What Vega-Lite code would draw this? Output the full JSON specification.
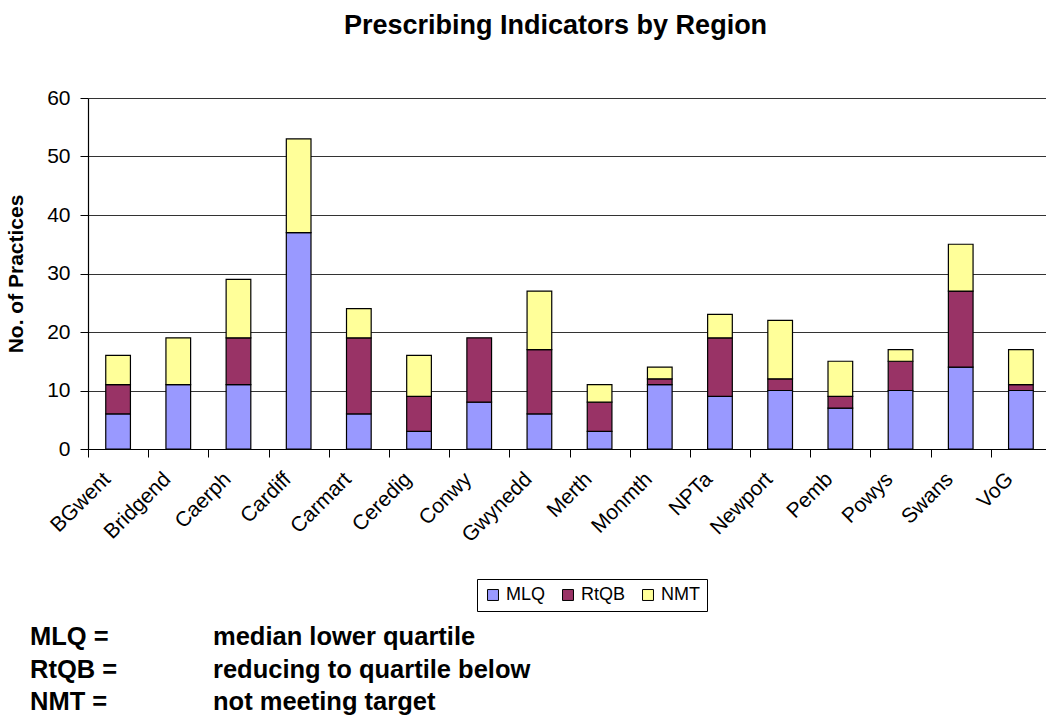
{
  "$schema": "https://vega.github.io/schema/vega-lite/v6.json",
  "background": "white",
  "padding": {"top": 12, "left": 5, "right": 5, "bottom": 5},
  "title": {
    "text": "Prescribing Indicators by Region",
    "font": "Liberation Sans",
    "fontSize": 27,
    "fontWeight": "bold",
    "color": "black",
    "anchor": "middle",
    "dx": 27,
    "offset": 47
  },
  "spacing": 79,
  "vconcat": [
    {
      "width": 963,
      "height": 351,
      "data": {
        "values": [
          {"region": "BGwent", "type": "MLQ", "n": 6},
          {"region": "BGwent", "type": "RtQB", "n": 5},
          {"region": "BGwent", "type": "NMT", "n": 5},
          {"region": "Bridgend", "type": "MLQ", "n": 11},
          {"region": "Bridgend", "type": "NMT", "n": 8},
          {"region": "Caerph", "type": "MLQ", "n": 11},
          {"region": "Caerph", "type": "RtQB", "n": 8},
          {"region": "Caerph", "type": "NMT", "n": 10},
          {"region": "Cardiff", "type": "MLQ", "n": 37},
          {"region": "Cardiff", "type": "NMT", "n": 16},
          {"region": "Carmart", "type": "MLQ", "n": 6},
          {"region": "Carmart", "type": "RtQB", "n": 13},
          {"region": "Carmart", "type": "NMT", "n": 5},
          {"region": "Ceredig", "type": "MLQ", "n": 3},
          {"region": "Ceredig", "type": "RtQB", "n": 6},
          {"region": "Ceredig", "type": "NMT", "n": 7},
          {"region": "Conwy", "type": "MLQ", "n": 8},
          {"region": "Conwy", "type": "RtQB", "n": 11},
          {"region": "Gwynedd", "type": "MLQ", "n": 6},
          {"region": "Gwynedd", "type": "RtQB", "n": 11},
          {"region": "Gwynedd", "type": "NMT", "n": 10},
          {"region": "Merth", "type": "MLQ", "n": 3},
          {"region": "Merth", "type": "RtQB", "n": 5},
          {"region": "Merth", "type": "NMT", "n": 3},
          {"region": "Monmth", "type": "MLQ", "n": 11},
          {"region": "Monmth", "type": "RtQB", "n": 1},
          {"region": "Monmth", "type": "NMT", "n": 2},
          {"region": "NPTa", "type": "MLQ", "n": 9},
          {"region": "NPTa", "type": "RtQB", "n": 10},
          {"region": "NPTa", "type": "NMT", "n": 4},
          {"region": "Newport", "type": "MLQ", "n": 10},
          {"region": "Newport", "type": "RtQB", "n": 2},
          {"region": "Newport", "type": "NMT", "n": 10},
          {"region": "Pemb", "type": "MLQ", "n": 7},
          {"region": "Pemb", "type": "RtQB", "n": 2},
          {"region": "Pemb", "type": "NMT", "n": 6},
          {"region": "Powys", "type": "MLQ", "n": 10},
          {"region": "Powys", "type": "RtQB", "n": 5},
          {"region": "Powys", "type": "NMT", "n": 2},
          {"region": "Swans", "type": "MLQ", "n": 14},
          {"region": "Swans", "type": "RtQB", "n": 13},
          {"region": "Swans", "type": "NMT", "n": 8},
          {"region": "VoG", "type": "MLQ", "n": 10},
          {"region": "VoG", "type": "RtQB", "n": 1},
          {"region": "VoG", "type": "NMT", "n": 6}
        ]
      },
      "transform": [
        {"calculate": "indexof(['MLQ', 'RtQB', 'NMT'], datum.type)", "as": "stackOrder"}
      ],
      "mark": {"type": "bar", "width": {"band": 0.41}, "stroke": "black", "strokeWidth": 1.2},
      "encoding": {
        "x": {
          "field": "region",
          "type": "nominal",
          "sort": null,
          "scale": {"paddingInner": 0, "paddingOuter": 0},
          "axis": {
            "title": null,
            "labelAngle": -45,
            "labelFont": "Liberation Sans",
            "labelFontSize": 21,
            "labelColor": "black",
            "labelPadding": 11,
            "labelOffset": -19,
            "tickBand": "extent",
            "tickSize": 8,
            "tickColor": "black",
            "domainColor": "black",
            "domainWidth": 1.2,
            "grid": false
          }
        },
        "y": {
          "field": "n",
          "type": "quantitative",
          "stack": "zero",
          "scale": {"domain": [0, 60], "nice": false},
          "axis": {
            "title": "No. of Practices",
            "titleFont": "Liberation Sans",
            "titleFontSize": 21,
            "titleFontWeight": "bold",
            "titleColor": "black",
            "titlePadding": 20,
            "values": [0, 10, 20, 30, 40, 50, 60],
            "labelFont": "Liberation Sans",
            "labelFontSize": 21,
            "labelColor": "black",
            "labelPadding": 10,
            "tickSize": 8,
            "tickColor": "black",
            "domainColor": "black",
            "domainWidth": 1.2,
            "grid": true,
            "gridColor": "#333333",
            "gridWidth": 1
          }
        },
        "fill": {
          "field": "type",
          "type": "nominal",
          "sort": ["MLQ", "RtQB", "NMT"],
          "scale": {"domain": ["MLQ", "RtQB", "NMT"], "range": ["#9999FF", "#993366", "#FFFF99"]},
          "legend": {
            "title": null,
            "orient": "none",
            "legendX": 389,
            "legendY": 481,
            "direction": "horizontal",
            "strokeColor": "black",
            "fillColor": "white",
            "padding": 7,
            "symbolType": "square",
            "symbolSize": 120,
            "symbolStrokeColor": "black",
            "symbolStrokeWidth": 1,
            "labelFont": "Liberation Sans",
            "labelFontSize": 18,
            "labelColor": "black",
            "columnPadding": 13
          }
        },
        "order": {"field": "stackOrder", "type": "quantitative", "sort": "ascending"}
      }
    },
    {
      "width": 233,
      "height": 65,
      "data": {
        "values": [
          {"line": "1", "kind": "term", "label": "MLQ ="},
          {"line": "1", "kind": "meaning", "label": "median lower quartile"},
          {"line": "2", "kind": "term", "label": "RtQB ="},
          {"line": "2", "kind": "meaning", "label": "reducing to quartile below"},
          {"line": "3", "kind": "term", "label": "NMT ="},
          {"line": "3", "kind": "meaning", "label": "not meeting target"}
        ]
      },
      "mark": {"type": "text", "align": "left", "baseline": "middle", "font": "Liberation Sans", "fontSize": 25.5, "fontWeight": "bold", "color": "black"},
      "encoding": {
        "x": {"field": "kind", "type": "nominal", "scale": {"type": "point", "domain": ["term", "meaning"], "range": [-58, 125], "padding": 0}, "axis": null},
        "y": {"field": "line", "type": "ordinal", "scale": {"type": "point", "padding": 0}, "axis": null},
        "text": {"field": "label"}
      }
    }
  ],
  "config": {"view": {"stroke": null}}
}
